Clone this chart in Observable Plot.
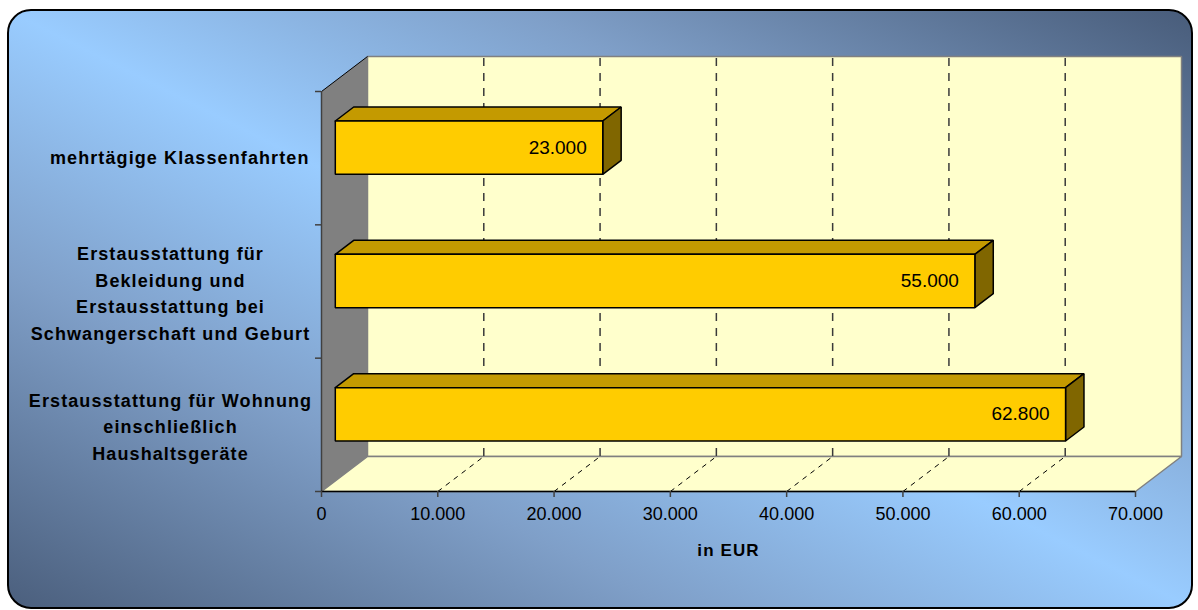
<!DOCTYPE html>
<html>
<head>
<meta charset="utf-8">
<script src="https://cdn.jsdelivr.net/npm/d3@7"></script>
<script src="https://cdn.jsdelivr.net/npm/@observablehq/plot@0.6"></script>
<style>
  html, body { margin: 0; padding: 0; background: #ffffff; }
  #wrap { position: relative; width: 1198px; height: 610px; overflow: hidden; }
  #bg {
    position: absolute; left: 7px; top: 9px; width: 1182px; height: 596px;
    border: 2px solid #000; border-radius: 24px;
    background: linear-gradient(to top right, #4b5f7d 0%, #7f9fc8 28%, #99ccff 50%, #7f9fc8 72%, #485c7a 100%);
  }
  #chart { position: absolute; left: 0; top: 0; }
  .catlab text { letter-spacing: 1.1px; }
</style>
</head>
<body>
<div id="wrap"><div id="bg"></div><div id="chart"></div></div>
<script>
// ---- data ----
const categories = [
  "mehrtägige Klassenfahrten",
  "Erstausstattung für\nBekleidung und\nErstausstattung bei\nSchwangerschaft und Geburt",
  "Erstausstattung für Wohnung\neinschließlich\nHaushaltsgeräte"
];
const values = [23000, 55000, 62800];
const xTicks = [0, 10000, 20000, 30000, 40000, 50000, 60000, 70000];
const xLabel = "in EUR";

// ---- layout ----
const W = 1198, H = 610;
const mL = 321, mR = 63, mT = 91, mB = 119;
const xMax = 70000, nCat = categories.length;
const DEPTH_X = 46, DEPTH_Y = 35;           // pixel depth of the 3D box
const ddx = DEPTH_X * xMax / (W - mL - mR);  // depth in x data units
const ddy = DEPTH_Y * nCat / (H - mT - mB);  // depth in y data units
const barFront = 0.3, barBack = 0.7, barHalf = 0.2;

const de = d3.formatLocale({decimal: ",", thousands: ".", grouping: [3], currency: ["", " €"]});
const fmt = de.format(",.0f");

const at = (x, y, f) => ({x: x + f * ddx, y: y - f * ddy});
function poly(id, pts) { return [...pts, pts[0]].map(p => ({id, ...p})); }

// walls
const backWall = poly("back", [at(0, 0, 1), at(xMax, 0, 1), at(xMax, nCat, 1), at(0, nCat, 1)]);
const sideWall = poly("side", [at(0, 0, 0), at(0, 0, 1), at(0, nCat, 1), at(0, nCat, 0)]);
const floor = poly("floor", [at(0, nCat, 0), at(xMax, nCat, 0), at(xMax, nCat, 1), at(0, nCat, 1)]);

// bars
const bars = values.map((v, i) => ({v, i, top: i + 0.5 - barHalf, bot: i + 0.5 + barHalf}));
const barFronts = bars.flatMap(b => poly("f" + b.i, [at(0, b.top, barFront), at(b.v, b.top, barFront), at(b.v, b.bot, barFront), at(0, b.bot, barFront)]));
const barTops = bars.flatMap(b => poly("t" + b.i, [at(0, b.top, barFront), at(b.v, b.top, barFront), at(b.v, b.top, barBack), at(0, b.top, barBack)]));
const barSides = bars.flatMap(b => poly("s" + b.i, [at(b.v, b.top, barFront), at(b.v, b.top, barBack), at(b.v, b.bot, barBack), at(b.v, b.bot, barFront)]));

const gridTicks = xTicks.filter(t => t > 0 && t < xMax);
const catData = categories.map((c, i) => ({c, i}));
const font = "'Liberation Sans', Arial, sans-serif";

const chart = Plot.plot({
  width: W, height: H,
  marginLeft: mL, marginRight: mR, marginTop: mT, marginBottom: mB,
  style: {background: "transparent", fontFamily: font, color: "#000", overflow: "visible"},
  x: {domain: [0, xMax], label: null},
  y: {domain: [0, nCat], reverse: true, label: null},
  marks: [
    // back wall
    Plot.line(backWall, {x: "x", y: "y", z: "id", fill: "#ffffcc", stroke: "#808080", strokeWidth: 1.5, strokeLinejoin: "miter"}),
    // side wall
    Plot.line(sideWall, {x: "x", y: "y", z: "id", fill: "#808080", stroke: "none"}),
    // floor
    Plot.line(floor, {x: "x", y: "y", z: "id", fill: "#ffffcc", stroke: "#808080", strokeWidth: 1.5, strokeLinejoin: "miter"}),
    // back wall dashed gridlines
    Plot.ruleX(gridTicks, {x: d => d + ddx, y1: nCat - ddy, y2: -ddy, stroke: "#3a3a3a", strokeWidth: 1.5, strokeDasharray: "8,7"}),
    // floor dashed gridlines
    Plot.link(gridTicks, {x1: d => d, y1: nCat, x2: d => d + ddx, y2: nCat - ddy, stroke: "#000", strokeWidth: 1, strokeDasharray: "5,5"}),
    // side wall edges
    Plot.link([0], {x1: 0, y1: 0, x2: ddx, y2: -ddy, stroke: "#000", strokeWidth: 1}),
    Plot.ruleX([0], {y1: 0, y2: nCat, stroke: "#404040", strokeWidth: 1.5}),
    // floor front edge
    Plot.ruleY([nCat], {x1: 0, x2: xMax, stroke: "#000", strokeWidth: 1.5}),
    // y ticks
    Plot.axisY({ticks: d3.range(nCat + 1), tickFormat: () => "", tickSize: 6, stroke: "#404040", strokeWidth: 1.5, label: null}),
    // x axis
    Plot.axisX(xTicks, {tickFormat: fmt, tickSize: 6, tickPadding: 10, fontSize: 18, stroke: "#404040", strokeWidth: 1.5, label: null, fontFamily: font}),
    Plot.text([xLabel], {frameAnchor: "bottom", dy: 64, text: d => d, fontSize: 17, fontWeight: "bold", fontFamily: font, fill: "#000", className: "catlab"}),
    // bars
    Plot.line(barTops, {x: "x", y: "y", z: "id", fill: "#c49a00", stroke: "#000", strokeWidth: 1.5, strokeLinejoin: "miter"}),
    Plot.line(barSides, {x: "x", y: "y", z: "id", fill: "#806600", stroke: "#000", strokeWidth: 1.5, strokeLinejoin: "miter"}),
    Plot.line(barFronts, {x: "x", y: "y", z: "id", fill: "#ffcc00", stroke: "#000", strokeWidth: 1.5, strokeLinejoin: "miter"}),
    // value labels
    Plot.text(bars, {x: d => d.v + barFront * ddx, y: d => d.i + 0.5 - barFront * ddy, text: d => fmt(d.v), textAnchor: "end", dx: -16, fontSize: 19, fontFamily: font, fill: "#000"}),
    // category labels
    Plot.text(catData.filter(d => d.c.includes("\n")), {x: 0, y: d => d.i + 0.5, text: "c", textAnchor: "middle", dx: -151, lineHeight: 1.47, fontSize: 18, fontWeight: "bold", fontFamily: font, fill: "#000", className: "catlab"}),
    Plot.text(catData.filter(d => !d.c.includes("\n")), {x: 0, y: d => d.i + 0.5, text: "c", textAnchor: "end", dx: -12, fontSize: 18, fontWeight: "bold", fontFamily: font, fill: "#000", className: "catlab"})
  ]
});
document.getElementById("chart").append(chart);
</script>
</body>
</html>
